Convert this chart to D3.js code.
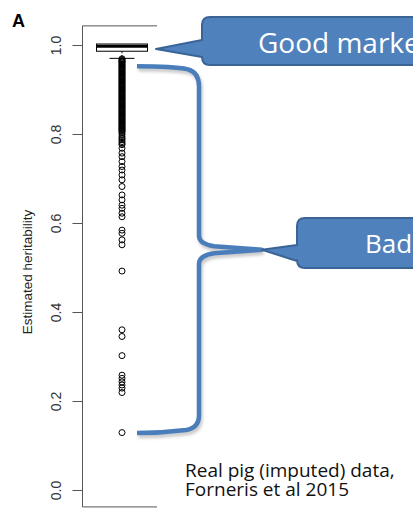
<!DOCTYPE html>
<html>
<head>
<meta charset="utf-8">
<script src="https://cdn.jsdelivr.net/npm/d3@7/dist/d3.min.js"></script>
<style>
  html, body { margin: 0; padding: 0; background: #fff; }
  svg { display: block; }
</style>
</head>
<body>
<svg id="chart" width="413" height="508"></svg>
<script>
// Estimated heritability per marker: boxplot summary and outliers
const yTicks = [0.0, 0.2, 0.4, 0.6, 0.8, 1.0];
const boxStats = { q1: 0.986, median: 0.997, q3: 1.0, lowerWhisker: 0.970, upperWhisker: 1.0 };

// Outliers in the densely packed range (they merge into a solid column)
const denseOutliers = [
  0.969, 0.967, 0.965, 0.963, 0.962, 0.960, 0.958, 0.956, 0.954, 0.952,
  0.950, 0.948, 0.946, 0.944, 0.942, 0.940, 0.938, 0.936, 0.934, 0.932,
  0.930, 0.928, 0.926, 0.924, 0.922, 0.920, 0.918, 0.916, 0.914, 0.912,
  0.910, 0.908, 0.906, 0.904, 0.902, 0.900, 0.898, 0.896, 0.894, 0.892,
  0.890, 0.888, 0.886, 0.884, 0.882, 0.880, 0.878, 0.876, 0.874, 0.872,
  0.870, 0.868, 0.866, 0.864, 0.862, 0.860, 0.858, 0.856, 0.854, 0.852,
  0.850, 0.848, 0.846, 0.844, 0.842, 0.840, 0.838, 0.836, 0.834, 0.832,
  0.830, 0.828, 0.826, 0.824, 0.822, 0.820, 0.818, 0.816, 0.814, 0.812,
  0.810, 0.808, 0.806, 0.803, 0.799, 0.794, 0.790, 0.787, 0.783, 0.779,
  0.776
];
// Sparser outliers further down
const sparseOutliers = [
  0.768, 0.757, 0.749, 0.738, 0.727, 0.719, 0.708, 0.697, 0.682, 0.663,
  0.652, 0.640, 0.633, 0.622, 0.614, 0.584, 0.577, 0.562, 0.551, 0.492,
  0.360, 0.345, 0.302, 0.258, 0.251, 0.243, 0.236, 0.229, 0.219, 0.129
];
const outliers = denseOutliers.concat(sparseOutliers);

const svg = d3.select("#chart");
const y = d3.scaleLinear().domain([0, 1]).range([490, 45]);
const x = d3.scaleLinear().domain([0, 1]).range([82, 162]); // box centred at 0.5
const cx = x(0.5);
const boxHalf = 25.5, capHalf = 12.5;
const plotTop = y(1.043), plotBottom = y(-0.038);

// Plot frame (left, top and bottom edges visible)
const frame = svg.append("g").attr("stroke", "#555").attr("stroke-width", 1).attr("fill", "none");
frame.append("line").attr("x1", 82.5).attr("x2", 157).attr("y1", plotTop).attr("y2", plotTop);
frame.append("line").attr("x1", 82.5).attr("x2", 157).attr("y1", plotBottom).attr("y2", plotBottom);

// Y axis
const axis = d3.axisLeft(y).tickValues(yTicks).tickSize(10).tickFormat(d3.format(".1f"));
const gAxis = svg.append("g").attr("transform", "translate(82.5,0)").call(axis);
gAxis.select(".domain").remove();
gAxis.append("line").attr("x1", 0).attr("x2", 0).attr("y1", plotTop).attr("y2", plotBottom)
  .attr("stroke", "#555");
gAxis.selectAll(".tick line").attr("stroke", "#555");
gAxis.selectAll(".tick text")
  .attr("x", null).attr("dy", null)
  .attr("transform", "translate(-22,0) rotate(-90)")
  .attr("text-anchor", "middle")
  .attr("fill", "#333")
  .style("font-family", "'Liberation Sans', Arial, sans-serif")
  .style("font-size", "14px");

svg.append("text")
  .attr("transform", `translate(32,${y(0.49)}) rotate(-90)`)
  .attr("text-anchor", "middle")
  .attr("fill", "#222")
  .style("font-family", "'Liberation Sans', Arial, sans-serif")
  .style("font-size", "13.5px")
  .text("Estimated heritability");

svg.append("text")
  .attr("x", 12).attr("y", 27)
  .style("font-family", "'Liberation Sans', Arial, sans-serif")
  .style("font-size", "18px").style("font-weight", "bold")
  .text("A");

// Boxplot
const gBox = svg.append("g");
gBox.append("line").attr("x1", cx).attr("x2", cx)
  .attr("y1", y(boxStats.q1)).attr("y2", y(boxStats.lowerWhisker))
  .attr("stroke", "#000").attr("stroke-dasharray", "2,2");
gBox.append("line").attr("x1", cx - capHalf).attr("x2", cx + capHalf)
  .attr("y1", y(boxStats.lowerWhisker)).attr("y2", y(boxStats.lowerWhisker))
  .attr("stroke", "#000");

// Outlier circles
svg.append("g").selectAll("circle").data(outliers).join("circle")
  .attr("cx", cx).attr("cy", d => y(d)).attr("r", 3)
  .attr("fill", "none").attr("stroke", "#000").attr("stroke-width", 1);

gBox.append("rect")
  .attr("x", cx - boxHalf).attr("width", boxHalf * 2)
  .attr("y", y(boxStats.q3) - 1).attr("height", y(boxStats.q1) - y(boxStats.q3) + 1)
  .attr("fill", "#fff").attr("stroke", "#000");
gBox.append("line").attr("x1", cx - boxHalf).attr("x2", cx + boxHalf)
  .attr("y1", y(boxStats.median)).attr("y2", y(boxStats.median))
  .attr("stroke", "#000").attr("stroke-width", 3);

// Annotations
const defs = svg.append("defs");
defs.append("filter").attr("id", "soft").attr("x", "-20%").attr("y", "-20%").attr("width", "140%").attr("height", "140%")
  .append("feGaussianBlur").attr("stdDeviation", 1.5);

const braceTop = y(0.952), braceBottom = y(0.128), braceMid = y(0.540);
const bx = 199, tipX = 262;
const bracePath = d3.path();
bracePath.moveTo(137, braceTop);
bracePath.bezierCurveTo(160, braceTop, 178, braceTop + 1, 188, braceTop + 3);
bracePath.quadraticCurveTo(bx, braceTop + 6, bx, braceTop + 20);
bracePath.lineTo(bx, braceMid - 14);
bracePath.quadraticCurveTo(bx, braceMid - 6, 214, braceMid - 3.5);
bracePath.lineTo(tipX, braceMid);
bracePath.lineTo(214, braceMid + 3.5);
bracePath.quadraticCurveTo(bx, braceMid + 6, bx, braceMid + 14);
bracePath.lineTo(bx, braceBottom - 18);
bracePath.quadraticCurveTo(bx, braceBottom - 5, 186, braceBottom - 3);
bracePath.bezierCurveTo(170, braceBottom - 1, 155, braceBottom, 137, braceBottom);

svg.append("path").attr("d", bracePath.toString())
  .attr("transform", "translate(1.5,3)")
  .attr("fill", "none").attr("stroke", "#888").attr("stroke-opacity", 0.45)
  .attr("stroke-width", 4.5).attr("filter", "url(#soft)");
svg.append("path").attr("d", bracePath.toString())
  .attr("fill", "none").attr("stroke", "#4a7ebb").attr("stroke-width", 4.5)
  .attr("stroke-linejoin", "round");

function callout(left, top, bottom, tip, baseTop, baseBottom) {
  const r = 8, right = 460;
  const p = d3.path();
  p.moveTo(left + r, top);
  p.lineTo(right, top);
  p.lineTo(right, bottom);
  p.lineTo(left + r, bottom);
  p.quadraticCurveTo(left, bottom, left, bottom - r);
  p.lineTo(left, baseBottom);
  p.lineTo(tip[0], tip[1]);
  p.lineTo(left, baseTop);
  p.lineTo(left, top + r);
  p.quadraticCurveTo(left, top, left + r, top);
  p.closePath();
  return p.toString();
}

const calloutStyle = sel => sel.attr("fill", "#4f81bd").attr("stroke", "#3a6496").attr("stroke-width", 2)
  .attr("stroke-linejoin", "round");

svg.append("path").attr("d", callout(202, 17, 65, [156, y(0.991)], 40, 57)).call(calloutStyle);
svg.append("path").attr("d", callout(297, 218, 268, [tipX, braceMid], 245, 261)).call(calloutStyle);

const labelFont = "'Open Sans', 'Noto Sans', sans-serif";
svg.append("text").attr("x", 258).attr("y", 53)
  .attr("fill", "#fff").style("font-family", labelFont).style("font-size", "28px")
  .text("Good marker");
svg.append("text").attr("x", 365).attr("y", 253)
  .attr("fill", "#fff").style("font-family", labelFont).style("font-size", "26px")
  .text("Bad");

const note = svg.append("text").attr("fill", "#111")
  .style("font-family", labelFont).style("font-size", "19px");
note.append("tspan").attr("x", 185).attr("y", 477).text("Real pig (imputed) data,");
note.append("tspan").attr("x", 185).attr("y", 496).text("Forneris et al 2015");
</script>
</body>
</html>
